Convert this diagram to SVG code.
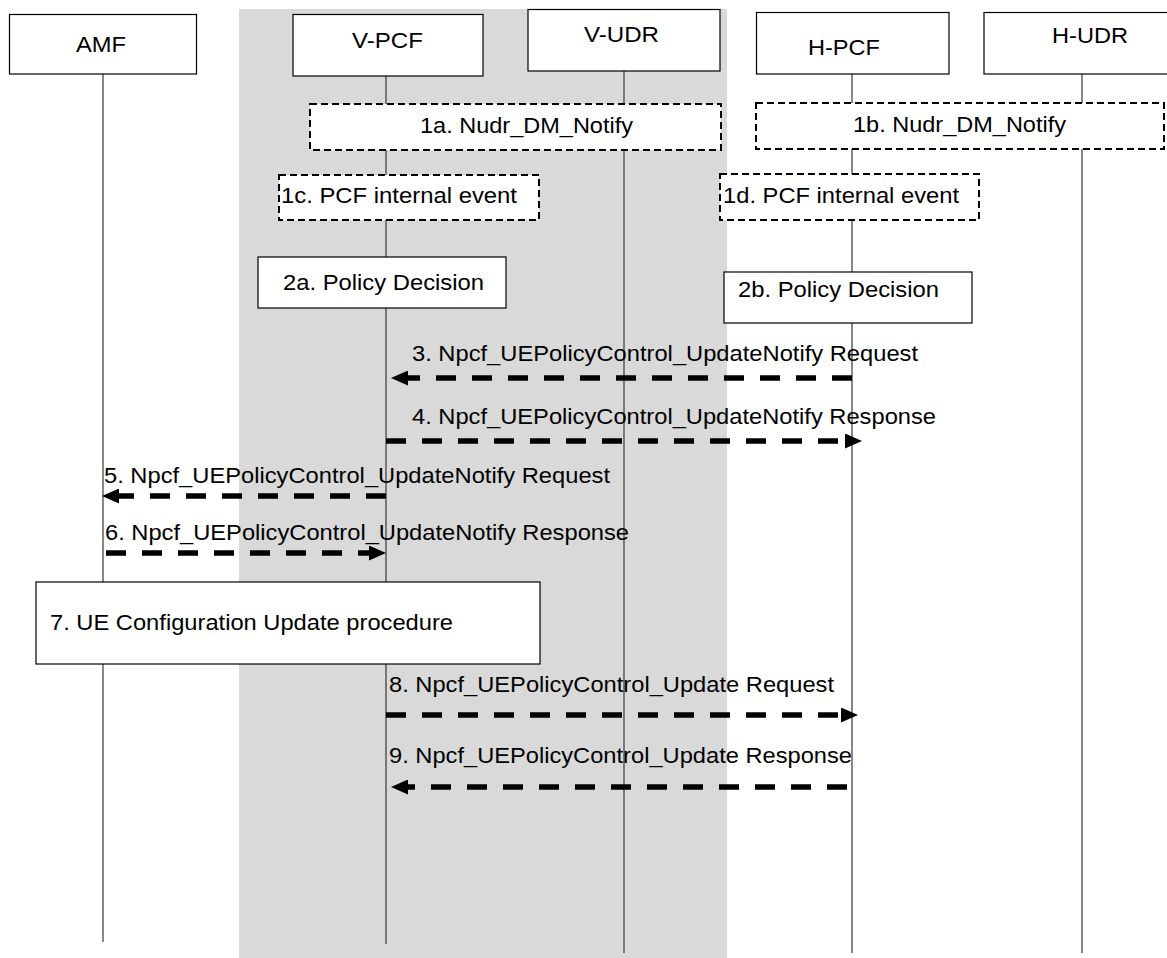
<svg xmlns="http://www.w3.org/2000/svg" width="1167" height="958" viewBox="0 0 1167 958">
<style>
text{font-family:"Liberation Sans",Arial,sans-serif;font-size:22px;fill:#000}
.box{fill:#fff;stroke:#000;stroke-width:1.2}
.dbox{fill:#fff;stroke:#000;stroke-width:2;stroke-dasharray:7,4}
.life{stroke:#383838;stroke-width:1.2;fill:none}
.msg{stroke:#000;stroke-width:5.5;stroke-dasharray:20,16;fill:none;marker-end:url(#ah)}
</style>
<defs>
<marker id="ah" markerUnits="userSpaceOnUse" markerWidth="17" markerHeight="15" refX="4" refY="7.5" orient="auto">
<path d="M0,0 L17,7.5 L0,15 z" fill="#000"/>
</marker>
</defs>
<rect id="visited-domain" x="239" y="9" width="488" height="949" fill="#d9d9d9"/>
<g id="lifelines">
<line class="life" x1="103" y1="74" x2="103" y2="942"/>
<line class="life" x1="386" y1="76" x2="386" y2="944"/>
<line class="life" x1="624" y1="71" x2="624" y2="953"/>
<line class="life" x1="852" y1="74" x2="852" y2="953"/>
<line class="life" x1="1082" y1="74" x2="1082" y2="953"/>
</g>
<g id="AMF"><rect class="box" x="9.5" y="14.5" width="187" height="59.5"/><text x="76" y="52" textLength="50" lengthAdjust="spacingAndGlyphs">AMF</text></g>
<g id="V-PCF"><rect class="box" x="293" y="14.5" width="190" height="61.5"/><text x="352" y="48" textLength="71" lengthAdjust="spacingAndGlyphs">V-PCF</text></g>
<g id="V-UDR"><rect class="box" x="528" y="9.5" width="192" height="61.5"/><text x="584" y="42" textLength="75" lengthAdjust="spacingAndGlyphs">V-UDR</text></g>
<g id="H-PCF"><rect class="box" x="756.5" y="12.5" width="192.5" height="61.5"/><text x="808" y="55" textLength="72" lengthAdjust="spacingAndGlyphs">H-PCF</text></g>
<g id="H-UDR"><rect class="box" x="984" y="12.5" width="200" height="61.5"/><text x="1052" y="43" textLength="76" lengthAdjust="spacingAndGlyphs">H-UDR</text></g>
<g id="step1a"><rect class="dbox" x="310" y="104" width="411" height="46"/><text x="420" y="133" textLength="213" lengthAdjust="spacingAndGlyphs">1a. Nudr_DM_Notify</text></g>
<g id="step1b"><rect class="dbox" x="756" y="103" width="408" height="46"/><text x="853" y="132" textLength="213" lengthAdjust="spacingAndGlyphs">1b. Nudr_DM_Notify</text></g>
<g id="step1c"><rect class="dbox" x="279" y="175" width="260" height="45"/><text x="281" y="203" textLength="236" lengthAdjust="spacingAndGlyphs">1c. PCF internal event</text></g>
<g id="step1d"><rect class="dbox" x="720" y="174" width="259" height="46"/><text x="723" y="203" textLength="236" lengthAdjust="spacingAndGlyphs">1d. PCF internal event</text></g>
<g id="step2a"><rect class="box" x="258" y="257" width="248" height="51"/><text x="283" y="290" textLength="201" lengthAdjust="spacingAndGlyphs">2a. Policy Decision</text></g>
<g id="step2b"><rect class="box" x="724" y="272" width="248" height="51"/><text x="738" y="297" textLength="201" lengthAdjust="spacingAndGlyphs">2b. Policy Decision</text></g>
<g id="step7"><rect class="box" x="36" y="582" width="504" height="82"/><text x="50" y="630" textLength="403" lengthAdjust="spacingAndGlyphs">7. UE Configuration Update procedure</text></g>
<g id="connectors">
<line class="msg" x1="852" y1="378" x2="404" y2="378"/>
<line class="msg" x1="386" y1="441" x2="849" y2="441"/>
<line class="msg" x1="386" y1="496" x2="115" y2="496"/>
<line class="msg" x1="106" y1="553" x2="373" y2="553"/>
<line class="msg" x1="386" y1="715" x2="845" y2="715"/>
<line class="msg" x1="847" y1="787" x2="404" y2="787"/>
</g>
<g id="labels">
<text x="412" y="360.5" textLength="506" lengthAdjust="spacingAndGlyphs">3. Npcf_UEPolicyControl_UpdateNotify Request</text>
<text x="412" y="423.5" textLength="524" lengthAdjust="spacingAndGlyphs">4. Npcf_UEPolicyControl_UpdateNotify Response</text>
<text x="104" y="483" textLength="506" lengthAdjust="spacingAndGlyphs">5. Npcf_UEPolicyControl_UpdateNotify Request</text>
<text x="105" y="540" textLength="524" lengthAdjust="spacingAndGlyphs">6. Npcf_UEPolicyControl_UpdateNotify Response</text>
<text x="389" y="692" textLength="445" lengthAdjust="spacingAndGlyphs">8. Npcf_UEPolicyControl_Update Request</text>
<text x="389" y="763" textLength="463" lengthAdjust="spacingAndGlyphs">9. Npcf_UEPolicyControl_Update Response</text>
</g>
</svg>
